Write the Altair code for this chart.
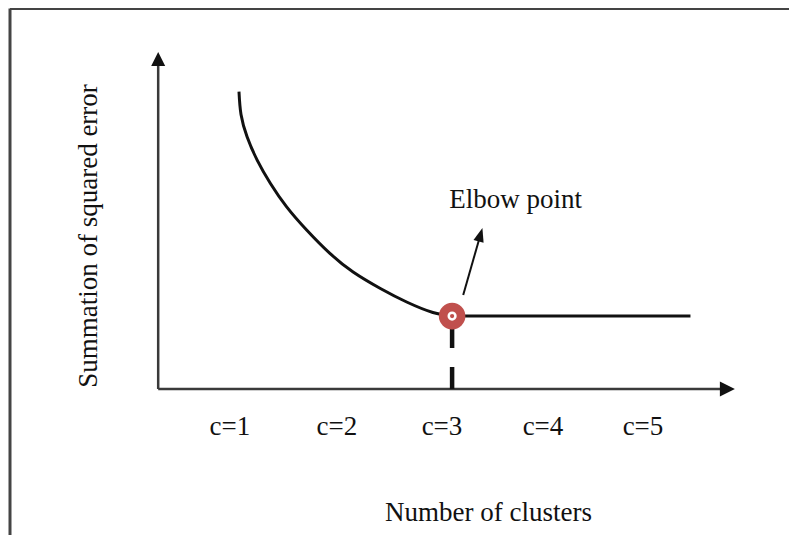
import altair as alt
import pandas as pd

# ---- data (arbitrary units) ----
curve_x = [0.99, 1.01, 1.07, 1.17, 1.30, 1.46, 1.66, 1.89, 2.12, 2.39, 2.65, 2.91, 3.10]
curve_y = [9.91, 9.15, 8.41, 7.63, 6.86, 6.08, 5.30, 4.52, 3.90, 3.35, 2.90, 2.55, 2.43]
flat_x = [3.10, 5.46]
flat_y = [2.43, 2.43]

elbow_x = [3.10]
elbow_y = [2.43]

tick_labels = ["c=1", "c=2", "c=3", "c=4", "c=5"]
tick_pos = [0.90, 1.96, 3.00, 4.00, 4.99]
tick_y = -1.53

axis_origin_x = 0.19
x_arrow_tip = 5.90
y_arrow_tip = 11.23

elbow_arrow_from = (3.21, 3.13)
elbow_arrow_to = (3.40, 5.37)
elbow_text = "Elbow point"
elbow_text_pos = (3.73, 6.03)

x_title = "Number of clusters"
x_title_pos = (3.46, -4.40)
y_title = "Summation of squared error"
y_title_pos = (-0.42, 5.10)

# ---- scales (plot area 781 x 527) ----
W, H = 781, 527
xs = alt.Scale(domain=[3 - 434 / 101, 3 + (W - 434) / 101], nice=False, zero=False)
ys = alt.Scale(domain=[-(H - 381) / 30, 381 / 30], nice=False, zero=False)

FONT = "Liberation Serif"
FS = 27
INK = "#111111"
AX = "#3a3a3a"


def X(f="x"):
    return alt.X(f"{f}:Q", scale=xs, axis=None)


def Y(f="y"):
    return alt.Y(f"{f}:Q", scale=ys, axis=None)


one = pd.DataFrame({"a": [0]})

# frame (top and left edges)
frame_top = alt.Chart(one).mark_rule(color="#444444", strokeWidth=3).encode(
    x=alt.value(2), x2=alt.value(W), y=alt.value(0.5))
frame_left = alt.Chart(one).mark_rule(color="#444444", strokeWidth=3).encode(
    x=alt.value(2), y=alt.value(0.5), y2=alt.value(H))

# axes
xaxis = alt.Chart(pd.DataFrame({"x": [axis_origin_x], "x2": [x_arrow_tip - 0.08], "y": [0]})).mark_rule(
    color=AX, strokeWidth=2.5).encode(x=X(), x2="x2:Q", y=Y())
yaxis = alt.Chart(pd.DataFrame({"x": [axis_origin_x], "y": [0], "y2": [y_arrow_tip - 0.25]})).mark_rule(
    color=AX, strokeWidth=2.5).encode(x=X(), y=Y(), y2="y2:Q")
xhead = alt.Chart(pd.DataFrame({"x": [x_arrow_tip], "y": [0]})).mark_point(
    shape="M0,0L-2,-1L-2,1Z", filled=True, opacity=1, color="#111111", size=225, strokeWidth=0
).encode(x=X(), y=Y())
yhead = alt.Chart(pd.DataFrame({"x": [axis_origin_x], "y": [y_arrow_tip]})).mark_point(
    shape="M0,0L-1,2L1,2Z", filled=True, opacity=1, color="#111111", size=196, strokeWidth=0
).encode(x=X(), y=Y())

# curve and flat part
curve = alt.Chart(pd.DataFrame({"x": curve_x, "y": curve_y, "i": list(range(len(curve_x)))})).mark_line(
    color="#111111", strokeWidth=3, interpolate="natural").encode(x=X(), y=Y(), order="i:Q")
flat = alt.Chart(pd.DataFrame({"x": flat_x, "y": flat_y})).mark_line(
    color="#111111", strokeWidth=3).encode(x=X(), y=Y())

# dashed drop line
drop = alt.Chart(pd.DataFrame({"x": elbow_x, "y": elbow_y, "y2": [0]})).mark_rule(
    color="#111111", strokeWidth=4.5, strokeDash=[32, 19]).encode(x=X(), y=Y(), y2="y2:Q")

# elbow marker
edf = pd.DataFrame({"x": elbow_x, "y": elbow_y})
m_outer = alt.Chart(edf).mark_point(shape="circle", filled=True, opacity=1, color="#c0504d",
                                    size=707, strokeWidth=0).encode(x=X(), y=Y())
m_ring = alt.Chart(edf).mark_point(shape="circle", filled=False, opacity=1, color="#ffffff",
                                   size=45, strokeWidth=2.5).encode(x=X(), y=Y())

# elbow annotation arrow
arr = alt.Chart(pd.DataFrame({"x": [elbow_arrow_from[0]], "y": [elbow_arrow_from[1]],
                              "x2": [elbow_arrow_to[0] - 0.03], "y2": [elbow_arrow_to[1] - 0.35]})).mark_rule(
    color="#111111", strokeWidth=2).encode(x=X(), y=Y(), x2="x2:Q", y2="y2:Q")
arrhead = alt.Chart(pd.DataFrame({"x": [elbow_arrow_to[0]], "y": [elbow_arrow_to[1]]})).mark_point(
    shape="M0,0L-0.75,2L0.75,2Z", filled=True, opacity=1, color="#111111", size=196, strokeWidth=0,
    angle=16).encode(x=X(), y=Y())

# texts
def text_layer(txt, x, y, angle=0):
    return alt.Chart(pd.DataFrame({"x": [x], "y": [y], "t": [txt]})).mark_text(
        font=FONT, fontSize=FS, color=INK, align="center", baseline="alphabetic", angle=angle
    ).encode(x=X(), y=Y(), text="t:N")

labels = alt.Chart(pd.DataFrame({"x": tick_pos, "y": [tick_y] * 5, "t": tick_labels})).mark_text(
    font=FONT, fontSize=FS, color=INK, align="center", baseline="alphabetic").encode(
    x=X(), y=Y(), text="t:N")

t_elbow = text_layer(elbow_text, *elbow_text_pos)
t_x = text_layer(x_title, *x_title_pos)
t_y = text_layer(y_title, *y_title_pos, angle=270)

chart = alt.layer(
    frame_top, frame_left, xaxis, yaxis, xhead, yhead, curve, flat, drop,
    m_outer, m_ring, arr, arrhead, labels, t_elbow, t_x, t_y
).properties(
    width=W, height=H, padding=0, autosize=alt.AutoSizeParams(type="none"), background="white"
).configure_view(stroke=None)

chart.save("out.html", embed_options={"renderer": "svg", "actions": False})
